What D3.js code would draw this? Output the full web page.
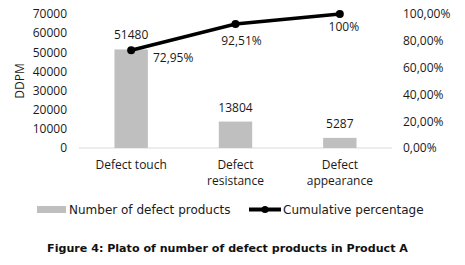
<!DOCTYPE html>
<html><head><meta charset="utf-8">
<script src="https://cdn.jsdelivr.net/npm/d3@7"></script>
<style>body{margin:0;background:#fff;}svg{display:block;}</style>
</head><body>
<svg id="c" width="465" height="265"></svg>
<script>
const categories = [["Defect touch"], ["Defect", "resistance"], ["Defect", "appearance"]];
const defects = [51480, 13804, 5287];
const cumulative = [72.95, 92.51, 100];
const cumLabels = ["72,95%", "92,51%", "100%"];
const leftTicks = [0, 10000, 20000, 30000, 40000, 50000, 60000, 70000];
const rightTicks = [0, 20, 40, 60, 80, 100];
const seriesNames = ["Number of defect products", "Cumulative percentage"];
const caption = "Figure 4: Plato of number of defect products in Product A";

const svg = d3.select("#c");
const font = "'Open Sans', sans-serif";
const x = d3.scaleBand().domain(d3.range(categories.length)).range([79, 392]).paddingInner(0.68).paddingOuter(0.34);
const yL = d3.scaleLinear().domain([0, 70000]).range([148, 14]);
const yR = d3.scaleLinear().domain([0, 100]).range([148, 14]);

// left axis
const gL = svg.append("g").attr("transform", "translate(72,0)")
  .call(d3.axisLeft(yL).tickValues(leftTicks).tickSize(0).tickPadding(5).tickFormat(d3.format("d")));
gL.select(".domain").remove();
gL.selectAll("text").attr("font-family", font).attr("font-size", 12).attr("fill", "#1a1a1a");

// right axis
const gR = svg.append("g").attr("transform", "translate(398,0)")
  .call(d3.axisRight(yR).tickValues(rightTicks).tickSize(0).tickPadding(5).tickFormat(d => d.toFixed(2).replace(".", ",") + "%"));
gR.select(".domain").remove();
gR.selectAll("text").attr("font-family", font).attr("font-size", 12).attr("fill", "#1a1a1a");

// baseline
svg.append("line").attr("x1", 79).attr("x2", 392).attr("y1", yL(0)).attr("y2", yL(0)).attr("stroke", "#d9d9d9").attr("stroke-width", 1);

// bars
svg.selectAll("rect.bar").data(defects).enter().append("rect").attr("class", "bar")
  .attr("x", (d, i) => x(i)).attr("width", x.bandwidth())
  .attr("y", d => yL(d)).attr("height", d => yL(0) - yL(d)).attr("fill", "#bfbfbf");

// bar labels
svg.selectAll("text.bl").data(defects).enter().append("text").attr("class", "bl")
  .attr("x", (d, i) => x(i) + x.bandwidth() / 2).attr("y", d => yL(d) - 10)
  .attr("text-anchor", "middle").attr("font-family", font).attr("font-size", 12).attr("fill", "#1a1a1a")
  .text(d => d);

// line
const cx = i => x(i) + x.bandwidth() / 2;
svg.append("path").datum(cumulative)
  .attr("d", d3.line().x((d, i) => cx(i)).y(d => yR(d)))
  .attr("fill", "none").attr("stroke", "#000").attr("stroke-width", 3.5);
svg.selectAll("circle.pt").data(cumulative).enter().append("circle").attr("class", "pt")
  .attr("cx", (d, i) => cx(i)).attr("cy", d => yR(d)).attr("r", 4).attr("fill", "#000");

// line labels
const lblOff = [[42, 12], [6, 21], [4, 17]];
svg.selectAll("text.ll").data(cumulative).enter().append("text").attr("class", "ll")
  .attr("x", (d, i) => cx(i) + lblOff[i][0]).attr("y", (d, i) => yR(d) + lblOff[i][1])
  .attr("text-anchor", "middle").attr("font-family", font).attr("font-size", 12).attr("fill", "#1a1a1a")
  .text((d, i) => cumLabels[i]);

// category labels
categories.forEach((lines, i) => {
  const t = svg.append("text").attr("x", cx(i)).attr("y", 169).attr("text-anchor", "middle")
    .attr("font-family", font).attr("font-size", 12).attr("fill", "#1a1a1a");
  lines.forEach((l, j) => t.append("tspan").attr("x", cx(i)).attr("dy", j === 0 ? 0 : 16).text(l));
});

// y title
svg.append("text").attr("transform", "translate(24,81) rotate(-90)").attr("text-anchor", "middle")
  .attr("font-family", font).attr("font-size", 12).attr("fill", "#1a1a1a").text("DDPM");

// legend
svg.append("rect").attr("x", 37).attr("y", 206).attr("width", 29).attr("height", 7).attr("fill", "#bfbfbf");
svg.append("text").attr("x", 69).attr("y", 214).attr("font-family", "'DejaVu Sans', sans-serif").attr("font-size", 12)
  .attr("fill", "#1a1a1a").text(seriesNames[0]);
svg.append("line").attr("x1", 249).attr("x2", 281).attr("y1", 209.5).attr("y2", 209.5).attr("stroke", "#000").attr("stroke-width", 4);
svg.append("circle").attr("cx", 265).attr("cy", 209.5).attr("r", 3.5).attr("fill", "#000");
svg.append("text").attr("x", 283).attr("y", 214).attr("font-family", "'DejaVu Sans', sans-serif").attr("font-size", 12)
  .attr("fill", "#1a1a1a").text(seriesNames[1]);

// caption
svg.append("text").attr("x", 227.5).attr("y", 252).attr("text-anchor", "middle")
  .attr("font-family", "'DejaVu Sans', sans-serif").attr("font-weight", "bold").attr("font-size", 11.1)
  .attr("fill", "#111").text(caption);
</script>
</body></html>
